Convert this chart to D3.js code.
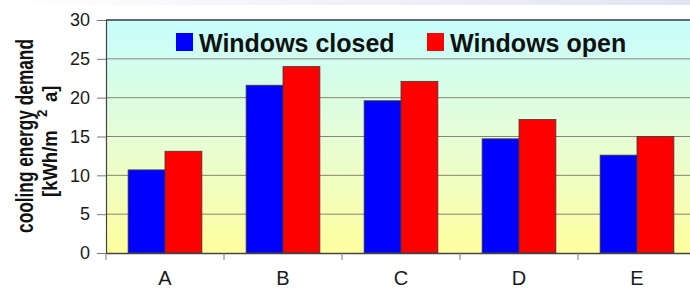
<!DOCTYPE html>
<html><head><meta charset="utf-8">
<script src="https://cdn.jsdelivr.net/npm/d3@7"></script>
<style>html,body{margin:0;padding:0;background:#fff;}svg{display:block;font-family:Arial,"Liberation Sans",sans-serif;}</style>
</head><body>
<svg id="c" width="690" height="289"></svg>
<script>
const categories = ["A", "B", "C", "D", "E"];
const seriesNames = ["Windows closed", "Windows open"];
const closedValues = [10.7, 21.6, 19.6, 14.7, 12.6];
const openValues = [13.1, 24.0, 22.1, 17.2, 15.0];
const yTicks = [0, 5, 10, 15, 20, 25, 30];
const colors = ["#0000ff", "#ff0000"];

(function () {
const svg = d3.select("#c");
const pLeft = 106, pRight = 696, pTop = 20, pBottom = 253;

const defs = svg.append("defs");
const sg = defs.append("linearGradient").attr("id", "strip").attr("x1", 0).attr("x2", 1).attr("y1", 0).attr("y2", 0);
sg.append("stop").attr("offset", "0%").attr("stop-color", "#ffffff");
sg.append("stop").attr("offset", "100%").attr("stop-color", "#e2e4f2");
svg.append("rect").attr("x", 0).attr("y", 0).attr("width", 690).attr("height", 5).attr("fill", "url(#strip)");

const bg = defs.append("linearGradient").attr("id", "bg").attr("x1", 0).attr("x2", 0).attr("y1", 0).attr("y2", 1);
bg.append("stop").attr("offset", "0%").attr("stop-color", "#c6fdfd");
bg.append("stop").attr("offset", "50%").attr("stop-color", "#e6fdd6");
bg.append("stop").attr("offset", "100%").attr("stop-color", "#ffff9e");

const x = d3.scaleBand().domain(categories).range([pLeft, pRight]).paddingInner(0).paddingOuter(0);
const y = d3.scaleLinear().domain([0, 30]).range([pBottom, pTop]);
const xs = d3.scaleBand().domain(seriesNames).range([0, x.bandwidth()]).paddingInner(0).paddingOuter(0.6);

svg.append("rect").attr("x", pLeft).attr("y", pTop).attr("width", pRight - pLeft).attr("height", pBottom - pTop).attr("fill", "url(#bg)");

svg.append("g").selectAll("line").data(yTicks.filter(d => d > 0)).join("line")
  .attr("x1", pLeft).attr("x2", pRight).attr("y1", d => y(d)).attr("y2", d => y(d))
  .attr("stroke", d => d === 30 ? "#3a3a3a" : "#858575").attr("stroke-width", d => d === 30 ? 1.6 : 1);

const data = categories.map((c, i) => ({ c, vals: [closedValues[i], openValues[i]] }));
const g = svg.append("g").selectAll("g").data(data).join("g").attr("transform", d => `translate(${x(d.c)},0)`);
g.selectAll("rect").data(d => d.vals.map((v, k) => ({ v, k }))).join("rect")
  .attr("x", d => xs(seriesNames[d.k])).attr("width", xs.bandwidth())
  .attr("y", d => y(d.v)).attr("height", d => y(0) - y(d.v))
  .attr("fill", d => colors[d.k]).attr("stroke", "#3a3a3a").attr("stroke-width", 0.8);

const ya = svg.append("g").attr("transform", `translate(${pLeft},0)`)
  .call(d3.axisLeft(y).tickValues(yTicks).tickSize(9).tickPadding(7));
ya.select(".domain").attr("stroke", "#444").attr("stroke-width", 1.2);
ya.selectAll(".tick line").attr("stroke", "#777");
ya.selectAll(".tick text").attr("font-size", 18).attr("fill", "#1a1a1a").attr("font-family", "Arial, 'Liberation Sans', sans-serif");

const xa = svg.append("g").attr("transform", `translate(0,${pBottom})`)
  .call(d3.axisBottom(x).tickSize(0).tickPadding(18));
xa.select(".domain").attr("stroke", "#444").attr("stroke-width", 1.4);
xa.selectAll(".tick text").attr("font-size", 20).attr("fill", "#1a1a1a").attr("font-family", "Arial, 'Liberation Sans', sans-serif");
svg.append("g").selectAll("line").data(categories).join("line")
  .attr("x1", d => x(d)).attr("x2", d => x(d)).attr("y1", pBottom).attr("y2", pBottom + 7)
  .attr("stroke", "#777");

const legendX = [176, 427];
const lg = svg.append("g").selectAll("g").data(seriesNames).join("g")
  .attr("transform", (d, i) => `translate(${legendX[i]},0)`);
lg.append("rect").attr("x", 0).attr("y", 33).attr("width", 17).attr("height", 18).attr("fill", (d, i) => colors[i]);
lg.append("text").attr("x", 23).attr("y", 52).attr("font-size", 25).attr("font-weight", "bold").attr("fill", "#111").text(d => d);

// y title (condensed)
svg.append("text").attr("transform", "translate(33,136) rotate(-90) scale(0.72,1)")
  .attr("text-anchor", "middle").attr("font-size", 24).attr("font-weight", "bold").attr("fill", "#111")
  .text("cooling energy demand");
const t2 = svg.append("g").attr("transform", "translate(57,197) rotate(-90) scale(0.88,1)")
  .attr("font-size", 21).attr("font-weight", "bold").attr("fill", "#111");
t2.append("text").attr("x", 0).attr("y", 0).text("[kWh/m");
t2.append("text").attr("x", 91).attr("y", -10).attr("font-size", 15).text("2");
t2.append("text").attr("x", 108).attr("y", 0).text("a]");
})();
</script>
</body></html>
